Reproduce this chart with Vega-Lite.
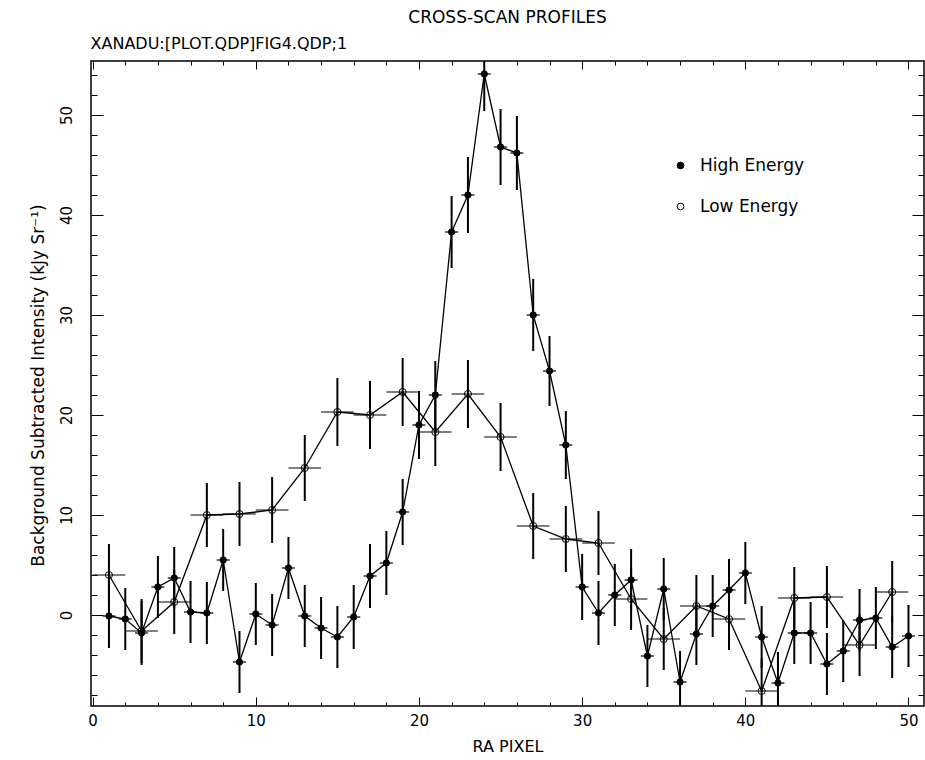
{
  "$schema": "https://vega.github.io/schema/vega-lite/v6.json",
  "width": 833,
  "height": 645,
  "autosize": {"type": "none"},
  "padding": {"left": 91, "top": 61, "right": 1, "bottom": 54},
  "background": "white",
  "title": {"text": "CROSS-SCAN PROFILES", "anchor": "middle", "frame": "group", "font": "DejaVu Sans", "fontSize": 17, "fontWeight": "normal", "color": "black", "offset": 8},
  "datasets": {
    "high": [
      {"x": 1, "y": -0.1, "ye": 3.2, "xe": 0.4, "series": "High Energy"},
      {"x": 2, "y": -0.4, "ye": 3.1, "xe": 0.4, "series": "High Energy"},
      {"x": 3, "y": -1.8, "ye": 3.2, "xe": 0.4, "series": "High Energy"},
      {"x": 4, "y": 2.8, "ye": 3.1, "xe": 0.4, "series": "High Energy"},
      {"x": 5, "y": 3.7, "ye": 3.1, "xe": 0.4, "series": "High Energy"},
      {"x": 6, "y": 0.3, "ye": 3.1, "xe": 0.4, "series": "High Energy"},
      {"x": 7, "y": 0.2, "ye": 3.1, "xe": 0.4, "series": "High Energy"},
      {"x": 8, "y": 5.5, "ye": 3.1, "xe": 0.4, "series": "High Energy"},
      {"x": 9, "y": -4.7, "ye": 3.1, "xe": 0.4, "series": "High Energy"},
      {"x": 10, "y": 0.1, "ye": 3.1, "xe": 0.4, "series": "High Energy"},
      {"x": 11, "y": -1.0, "ye": 3.1, "xe": 0.4, "series": "High Energy"},
      {"x": 12, "y": 4.7, "ye": 3.1, "xe": 0.4, "series": "High Energy"},
      {"x": 13, "y": -0.1, "ye": 3.1, "xe": 0.4, "series": "High Energy"},
      {"x": 14, "y": -1.3, "ye": 3.1, "xe": 0.4, "series": "High Energy"},
      {"x": 15, "y": -2.2, "ye": 3.1, "xe": 0.4, "series": "High Energy"},
      {"x": 16, "y": -0.2, "ye": 3.2, "xe": 0.4, "series": "High Energy"},
      {"x": 17, "y": 3.9, "ye": 3.2, "xe": 0.4, "series": "High Energy"},
      {"x": 18, "y": 5.2, "ye": 3.2, "xe": 0.4, "series": "High Energy"},
      {"x": 19, "y": 10.3, "ye": 3.3, "xe": 0.4, "series": "High Energy"},
      {"x": 20, "y": 19.0, "ye": 3.4, "xe": 0.4, "series": "High Energy"},
      {"x": 21, "y": 22.0, "ye": 3.4, "xe": 0.4, "series": "High Energy"},
      {"x": 22, "y": 38.3, "ye": 3.6, "xe": 0.4, "series": "High Energy"},
      {"x": 23, "y": 42.0, "ye": 3.8, "xe": 0.4, "series": "High Energy"},
      {"x": 24, "y": 54.1, "ye": 3.7, "xe": 0.4, "series": "High Energy"},
      {"x": 25, "y": 46.8, "ye": 3.8, "xe": 0.4, "series": "High Energy"},
      {"x": 26, "y": 46.2, "ye": 3.7, "xe": 0.4, "series": "High Energy"},
      {"x": 27, "y": 30.0, "ye": 3.6, "xe": 0.4, "series": "High Energy"},
      {"x": 28, "y": 24.4, "ye": 3.5, "xe": 0.4, "series": "High Energy"},
      {"x": 29, "y": 17.0, "ye": 3.4, "xe": 0.4, "series": "High Energy"},
      {"x": 30, "y": 2.8, "ye": 3.3, "xe": 0.4, "series": "High Energy"},
      {"x": 31, "y": 0.2, "ye": 3.2, "xe": 0.4, "series": "High Energy"},
      {"x": 32, "y": 2.0, "ye": 3.1, "xe": 0.4, "series": "High Energy"},
      {"x": 33, "y": 3.5, "ye": 3.1, "xe": 0.4, "series": "High Energy"},
      {"x": 34, "y": -4.1, "ye": 3.1, "xe": 0.4, "series": "High Energy"},
      {"x": 35, "y": 2.6, "ye": 3.1, "xe": 0.4, "series": "High Energy"},
      {"x": 36, "y": -6.7, "ye": 3.1, "xe": 0.4, "series": "High Energy"},
      {"x": 37, "y": -1.9, "ye": 3.1, "xe": 0.4, "series": "High Energy"},
      {"x": 38, "y": 0.9, "ye": 3.1, "xe": 0.4, "series": "High Energy"},
      {"x": 39, "y": 2.5, "ye": 3.1, "xe": 0.4, "series": "High Energy"},
      {"x": 40, "y": 4.2, "ye": 3.1, "xe": 0.4, "series": "High Energy"},
      {"x": 41, "y": -2.2, "ye": 3.1, "xe": 0.4, "series": "High Energy"},
      {"x": 42, "y": -6.8, "ye": 3.1, "xe": 0.4, "series": "High Energy"},
      {"x": 43, "y": -1.8, "ye": 3.1, "xe": 0.4, "series": "High Energy"},
      {"x": 44, "y": -1.8, "ye": 3.1, "xe": 0.4, "series": "High Energy"},
      {"x": 45, "y": -4.9, "ye": 3.1, "xe": 0.4, "series": "High Energy"},
      {"x": 46, "y": -3.6, "ye": 3.1, "xe": 0.4, "series": "High Energy"},
      {"x": 47, "y": -0.5, "ye": 3.1, "xe": 0.4, "series": "High Energy"},
      {"x": 48, "y": -0.3, "ye": 3.1, "xe": 0.4, "series": "High Energy"},
      {"x": 49, "y": -3.2, "ye": 3.1, "xe": 0.4, "series": "High Energy"},
      {"x": 50, "y": -2.1, "ye": 3.1, "xe": 0.4, "series": "High Energy"}
    ],
    "low": [
      {"x": 1, "y": 4.0, "ye": 3.1, "xe": 1, "series": "Low Energy"},
      {"x": 3, "y": -1.6, "ye": 3.2, "xe": 1, "series": "Low Energy"},
      {"x": 5, "y": 1.3, "ye": 3.2, "xe": 1, "series": "Low Energy"},
      {"x": 7, "y": 10.0, "ye": 3.2, "xe": 1, "series": "Low Energy"},
      {"x": 9, "y": 10.1, "ye": 3.2, "xe": 1, "series": "Low Energy"},
      {"x": 11, "y": 10.5, "ye": 3.3, "xe": 1, "series": "Low Energy"},
      {"x": 13, "y": 14.7, "ye": 3.3, "xe": 1, "series": "Low Energy"},
      {"x": 15, "y": 20.3, "ye": 3.4, "xe": 1, "series": "Low Energy"},
      {"x": 17, "y": 20.0, "ye": 3.4, "xe": 1, "series": "Low Energy"},
      {"x": 19, "y": 22.3, "ye": 3.4, "xe": 1, "series": "Low Energy"},
      {"x": 21, "y": 18.3, "ye": 3.4, "xe": 1, "series": "Low Energy"},
      {"x": 23, "y": 22.1, "ye": 3.4, "xe": 1, "series": "Low Energy"},
      {"x": 25, "y": 17.8, "ye": 3.4, "xe": 1, "series": "Low Energy"},
      {"x": 27, "y": 8.9, "ye": 3.3, "xe": 1, "series": "Low Energy"},
      {"x": 29, "y": 7.6, "ye": 3.3, "xe": 1, "series": "Low Energy"},
      {"x": 31, "y": 7.2, "ye": 3.2, "xe": 1, "series": "Low Energy"},
      {"x": 33, "y": 1.6, "ye": 3.1, "xe": 1, "series": "Low Energy"},
      {"x": 35, "y": -2.4, "ye": 3.1, "xe": 1, "series": "Low Energy"},
      {"x": 37, "y": 0.9, "ye": 3.1, "xe": 1, "series": "Low Energy"},
      {"x": 39, "y": -0.4, "ye": 3.1, "xe": 1, "series": "Low Energy"},
      {"x": 41, "y": -7.6, "ye": 3.3, "xe": 1, "series": "Low Energy"},
      {"x": 43, "y": 1.7, "ye": 3.1, "xe": 1, "series": "Low Energy"},
      {"x": 45, "y": 1.8, "ye": 3.1, "xe": 1, "series": "Low Energy"},
      {"x": 47, "y": -3.0, "ye": 3.1, "xe": 1, "series": "Low Energy"},
      {"x": 49, "y": 2.3, "ye": 3.1, "xe": 1, "series": "Low Energy"}
    ]
  },
  "resolve": {"axis": {"x": "independent", "y": "independent"}},
  "layer": [
    {
      "data": {"name": "high"},
      "mark": {"type": "errorbar", "color": "black", "thickness": 2},
      "encoding": {
        "x": {"field": "x", "type": "quantitative", "scale": {"domain": [-0.1, 50.95], "nice": false, "zero": false, "clamp": true}, "axis": null},
        "y": {"field": "y", "type": "quantitative", "scale": {"domain": [-9.1, 55.4], "nice": false, "zero": false, "clamp": true}, "axis": null},
        "yError": {"field": "ye"}
      }
    },
    {
      "data": {"name": "high"},
      "mark": {"type": "errorbar", "color": "black", "thickness": 1.2},
      "encoding": {
        "x": {"field": "x", "type": "quantitative", "axis": null},
        "y": {"field": "y", "type": "quantitative", "axis": null},
        "xError": {"field": "xe"}
      }
    },
    {
      "data": {"name": "low"},
      "mark": {"type": "errorbar", "color": "black", "thickness": 2},
      "encoding": {
        "x": {"field": "x", "type": "quantitative", "axis": null},
        "y": {"field": "y", "type": "quantitative", "axis": null},
        "yError": {"field": "ye"}
      }
    },
    {
      "data": {"name": "low"},
      "mark": {"type": "errorbar", "color": "black", "thickness": 1.2},
      "encoding": {
        "x": {"field": "x", "type": "quantitative", "axis": null},
        "y": {"field": "y", "type": "quantitative", "axis": null},
        "xError": {"field": "xe"}
      }
    },
    {
      "data": {"name": "high"},
      "mark": {"type": "line", "color": "black", "strokeWidth": 1.3},
      "encoding": {
        "x": {"field": "x", "type": "quantitative", "axis": {"orient": "bottom", "values": [0, 10, 20, 30, 40, 50], "tickSize": -9, "labelPadding": 16, "labelFontSize": 15, "labelFlush": false, "labelOverlap": false, "title": "RA PIXEL", "titleFontSize": 16, "titleY": 45, "titleBaseline": "alphabetic"}},
        "y": {"field": "y", "type": "quantitative", "axis": {"orient": "left", "values": [0, 10, 20, 30, 40, 50], "tickSize": -12, "labelPadding": 32, "labelAngle": -90, "labelAlign": "center", "labelBaseline": "alphabetic", "labelFontSize": 15, "labelFlush": false, "labelOverlap": false, "title": "Background Subtracted Intensity (kJy Sr⁻¹)", "titleFontSize": 17, "titleX": -53, "titleY": 324, "titleAngle": -90, "titleAlign": "center", "titleBaseline": "middle"}}
      }
    },
    {
      "data": {"name": "low"},
      "mark": {"type": "line", "color": "black", "strokeWidth": 1.3},
      "encoding": {
        "x": {"field": "x", "type": "quantitative", "axis": {"orient": "bottom", "values": [2, 4, 6, 8, 12, 14, 16, 18, 22, 24, 26, 28, 32, 34, 36, 38, 42, 44, 46, 48], "tickSize": -4, "labels": false, "title": null}},
        "y": {"field": "y", "type": "quantitative", "axis": {"orient": "left", "values": [-8, -6, -4, -2, 2, 4, 6, 8, 12, 14, 16, 18, 22, 24, 26, 28, 32, 34, 36, 38, 42, 44, 46, 48, 52, 54], "tickSize": -6, "labels": false, "title": null}}
      }
    },
    {
      "data": {"name": "high"},
      "mark": {"type": "point", "shape": "circle", "filled": true, "size": 40, "stroke": "black", "strokeWidth": 1, "opacity": 1},
      "encoding": {
        "x": {"field": "x", "type": "quantitative", "axis": {"orient": "top", "values": [0, 10, 20, 30, 40, 50], "tickSize": -8, "labels": false, "title": "XANADU:[PLOT.QDP]FIG4.QDP;1", "titleFontSize": 16, "titleX": -1, "titleY": -13, "titleAlign": "left", "titleBaseline": "alphabetic", "titleAngle": 0}},
        "y": {"field": "y", "type": "quantitative", "axis": {"orient": "right", "values": [0, 10, 20, 30, 40, 50], "tickSize": -12, "labels": false, "title": null}},
        "fill": {"field": "series", "type": "nominal", "scale": {"domain": ["High Energy", "Low Energy"], "range": ["black", "transparent"]}, "legend": {"orient": "none", "legendX": 581, "legendY": 96, "title": null, "padding": 0, "symbolType": "circle", "symbolSize": 45, "symbolStrokeColor": "black", "symbolStrokeWidth": 1, "labelFontSize": 17, "labelOffset": 11, "rowPadding": 23, "labelFont": "DejaVu Sans", "labelColor": "black"}}
      }
    },
    {
      "data": {"name": "low"},
      "mark": {"type": "point", "shape": "circle", "filled": true, "size": 50, "stroke": "black", "strokeWidth": 1, "opacity": 1},
      "encoding": {
        "x": {"field": "x", "type": "quantitative", "axis": {"orient": "top", "values": [2, 4, 6, 8, 12, 14, 16, 18, 22, 24, 26, 28, 32, 34, 36, 38, 42, 44, 46, 48], "tickSize": -4, "labels": false, "title": null}},
        "y": {"field": "y", "type": "quantitative", "axis": {"orient": "right", "values": [-8, -6, -4, -2, 2, 4, 6, 8, 12, 14, 16, 18, 22, 24, 26, 28, 32, 34, 36, 38, 42, 44, 46, 48, 52, 54], "tickSize": -6, "labels": false, "title": null}},
        "fill": {"field": "series", "type": "nominal"}
      }
    }
  ],
  "config": {
    "view": {"stroke": "black", "strokeWidth": 1.5},
    "font": "DejaVu Sans",
    "axis": {"domain": false, "grid": false, "tickColor": "black", "tickWidth": 1, "labelColor": "black", "labelFont": "DejaVu Sans", "titleFont": "DejaVu Sans", "titleFontWeight": "normal", "titleColor": "black"}
  }
}
